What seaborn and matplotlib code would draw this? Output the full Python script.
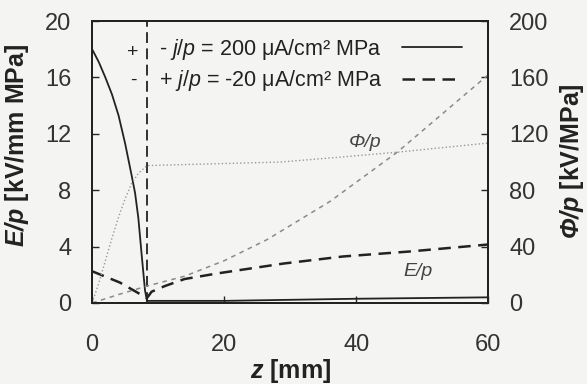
import numpy as np
import pandas as pd
import seaborn as sns
import matplotlib
matplotlib.use('Agg')
import matplotlib.pyplot as plt

# E/p curves (left axis, kV/mm MPa)
z_e_pos = [0, 1, 2, 3, 4, 5, 6, 6.5, 7, 7.5, 8.0, 8.3, 20, 40, 60]
e_pos = [18, 17.1, 16.0, 14.8, 13.3, 11.3, 9.0, 7.8, 6.0, 3.4, 0.9, 0.15, 0.15, 0.3, 0.4]
z_e_neg = [0, 4.2, 8.3, 9, 11, 14, 19, 29, 38, 48, 60]
e_neg = [2.25, 1.45, 0.35, 0.8, 1.2, 1.7, 2.1, 2.8, 3.3, 3.65, 4.15]

# Phi/p curves (right axis, kV/MPa)
z_phi_pos = [0, 1, 2, 3, 4, 5, 6, 7, 8.3, 28.5, 37.6, 46.2, 60]
phi_pos = [0, 14, 30, 46, 61, 74, 85, 92, 97.5, 100, 103.5, 107, 113.5]
z_phi_neg = [0, 4, 8.3, 14, 20, 26.5, 36, 46.2, 60]
phi_neg = [0, 6, 12, 19, 30, 45, 72, 107, 162]

boundary_z = 8.3
label_pos = '- $j/p$ = 200 μA/cm² MPa'
label_neg = '+ $j/p$ = -20 μA/cm² MPa'

sns.set_style("ticks")
plt.rcParams['font.family'] = ['Liberation Sans', 'DejaVu Sans']
plt.rcParams['mathtext.fontset'] = 'custom'
plt.rcParams['mathtext.rm'] = 'Liberation Sans'
plt.rcParams['mathtext.it'] = 'Liberation Sans:italic'
plt.rcParams['mathtext.bf'] = 'Liberation Sans:bold'
plt.rcParams['mathtext.bfit'] = 'Liberation Sans:italic:bold'

bg = '#f4f4f2'
fig = plt.figure(figsize=(5.87, 3.84), dpi=100, facecolor=bg)
ax = fig.add_axes([0.157, 0.211, 0.675, 0.734])
ax.set_facecolor(bg)
ax2 = ax.twinx()

df_e_pos = pd.DataFrame({'z': z_e_pos, 'v': e_pos})
df_e_neg = pd.DataFrame({'z': z_e_neg, 'v': e_neg})
df_phi_pos = pd.DataFrame({'z': z_phi_pos, 'v': phi_pos})
df_phi_neg = pd.DataFrame({'z': z_phi_neg, 'v': phi_neg})

sns.lineplot(data=df_e_pos, x='z', y='v', ax=ax, color='#222222', lw=1.3,
             estimator=None, label=label_pos)
sns.lineplot(data=df_e_neg, x='z', y='v', ax=ax, color='#222222', lw=1.8,
             estimator=None, label=label_neg)
ax.lines[-1].set_dashes((5, 3))
sns.lineplot(data=df_phi_pos, x='z', y='v', ax=ax2, color='#999999', lw=1.0,
             estimator=None, linestyle=':')
sns.lineplot(data=df_phi_neg, x='z', y='v', ax=ax2, color='#8a8a8a', lw=1.1,
             estimator=None)
ax2.lines[-1].set_dashes((3, 3))
ax.axvline(boundary_z, color='#222222', lw=1.3, dashes=(6, 3))

ax.set_xlim(0, 60)
ax.set_ylim(0, 20)
ax2.set_ylim(0, 200)
ax.set_xticks([0, 20, 40, 60])
ax.set_yticks([0, 4, 8, 12, 16, 20])
ax2.set_yticks([0, 40, 80, 120, 160, 200])

for a in (ax, ax2):
    for s in a.spines.values():
        s.set_visible(True)
        s.set_linewidth(1.4)
        s.set_color('#222222')
ax.tick_params(axis='y', direction='in', length=5, width=1, pad=15,
               labelsize=17, labelcolor='#333333')
ax.tick_params(axis='x', direction='in', length=5, width=1, pad=22,
               labelsize=17, labelcolor='#333333')
ax2.tick_params(axis='y', direction='in', length=5, width=1, pad=15,
                labelsize=17, labelcolor='#333333')

ax.set_xlabel(r'$\mathbfit{z}$ [mm]', fontsize=18, fontweight='bold', color='#222222')
ax.set_ylabel(r'$\mathbfit{E/p}$ [kV/mm MPa]', fontsize=18, fontweight='bold', color='#222222')
ax2.set_ylabel(r'$\mathbfit{\Phi/p}$ [kV/MPa]', fontsize=18, fontweight='bold', color='#222222')
ax.xaxis.set_label_coords(0.5, -0.19)
ax.yaxis.set_label_coords(-0.155, 0.56)
ax2.yaxis.set_label_coords(1.175, 0.505)

# side markers and curve names
ax.text(6.2, 17.8, '+', fontsize=14, ha='center', va='center', color='#222222')
ax.text(6.2, 15.8, '-', fontsize=14, ha='center', va='center', color='#222222')
ax.text(41.4, 11.4, 'Φ/p', fontsize=14, style='italic', ha='center', va='center', color='#444444')
ax.text(49.4, 2.2, 'E/p', fontsize=14, style='italic', ha='center', va='center', color='#444444')

leg = ax.legend(loc='upper right', bbox_to_anchor=(0.955, 0.975), frameon=False,
                markerfirst=False, fontsize=15.5, handlelength=2.8, handletextpad=0.9,
                borderaxespad=0, labelspacing=0.3)
for t in leg.get_texts():
    t.set_color('#222222')

fig.savefig('out.png', dpi=100, facecolor=bg)
